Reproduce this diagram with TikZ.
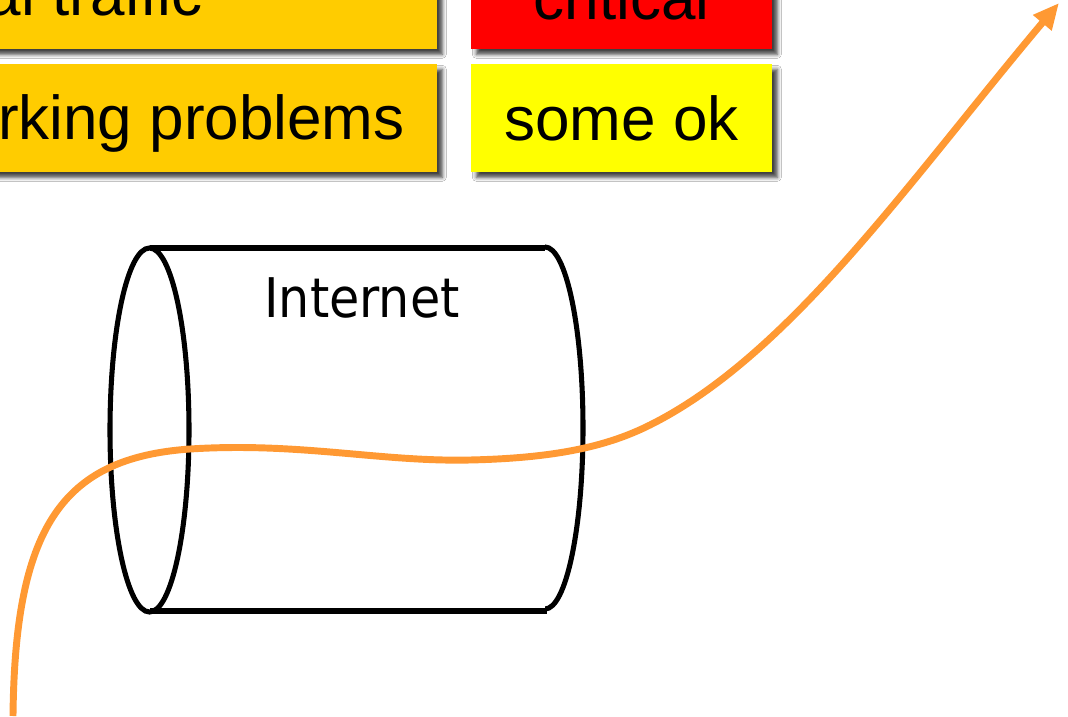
\documentclass[tikz,border=0pt]{standalone}
\usepackage{fontspec}
\setmainfont{Liberation Sans}
\newfontfamily\labelfont{DejaVu Sans Condensed}
\usetikzlibrary{arrows.meta,shadows.blur}

\definecolor{amber}{HTML}{FFCC00}
\definecolor{alarm}{HTML}{FF0000}
\definecolor{warnyellow}{HTML}{FFFF00}
\definecolor{flow}{HTML}{FF9933}

\tikzset{
  legendbox/.style={draw=none, inner sep=0pt, minimum height=81pt,
    blur shadow={shadow xshift=4pt, shadow yshift=-4pt,
                 shadow blur radius=3pt, shadow opacity=75}},
  legendtext/.style={inner sep=0pt, font=\fontsize{46.5}{50}\selectfont},
  cylline/.style={line width=3.8pt, black},
  flowline/.style={line width=5.2pt, flow,
    -{Triangle[length=19.5pt, width=17pt]}},
}

\begin{document}
\begin{tikzpicture}[x=0.75pt, y=-0.75pt]
  \useasboundingbox (0,0) rectangle (1068,717);
  \clip (0,0) rectangle (1068,717);
  \fill[white] (0,0) rectangle (1068,717);

  % legend boxes
  \node[legendbox, fill=amber, minimum width=552.75pt] (normalbox) at (68.5,-5) {};
  \node[legendbox, fill=amber, minimum width=552.75pt] (netbox) at (68.5,118) {};
  \node[legendbox, fill=alarm, minimum width=225.75pt] (critbox) at (621.5,-5) {};
  \node[legendbox, fill=warnyellow, minimum width=225.75pt] (okbox) at (621.5,118) {};

  \node[legendtext, anchor=base east] (normaltext) at (203,16) {normal traffic};
  \node[legendtext, anchor=base east] (nettext) at (405,139) {Networking problems};
  \node[legendtext, anchor=base] (crittext) at (621.5,20) {critical};
  \node[legendtext, anchor=base] (oktext) at (621.5,141) {some ok};

  % the Internet cylinder
  \draw[cylline] (150,248) -- (545,248);
  \draw[cylline] (150,611) -- (547,611);
  \draw[cylline] (149.5,430) ellipse [x radius=39.5, y radius=182];
  \begin{scope}
    \clip (545,200) rectangle (620,660);
    \draw[cylline] (545,428) ellipse [x radius=38, y radius=181];
  \end{scope}
  \node[inner sep=0pt, anchor=base, font=\labelfont\fontsize{41}{44}\selectfont]
    (inet) at (362,317) {Internet};

  % traffic path through the Internet
  \coordinate (src) at (13,716);
  \coordinate (entry) at (190,449);
  \coordinate (mid) at (470,460);
  \coordinate (exit) at (650,425);
  \coordinate (dst) at (1059,3);
  \draw[flowline] (src) .. controls (15,530) and (60,458) .. (entry)
    .. controls (300,442) and (380,462) .. (mid)
    .. controls (560,458) and (610,445) .. (exit)
    .. controls (790,355) and (910,180) .. (dst);
\end{tikzpicture}
\end{document}
